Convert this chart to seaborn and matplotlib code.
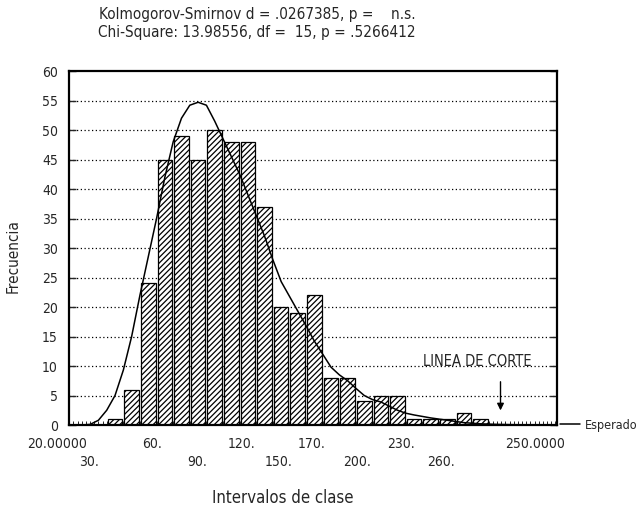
import numpy as np
import pandas as pd
import matplotlib
matplotlib.use("Agg")
import matplotlib.pyplot as plt
import matplotlib.transforms as mtransforms
import seaborn as sns

# ---------------- data ----------------
bin_index = list(range(23))
frecuencia = [1, 6, 24, 45, 49, 45, 50, 48, 48, 37, 20, 19, 22, 8, 8, 4, 5, 5, 1, 1, 1, 2, 1]

exp_pos = [-2.0, -1.5, -1.0, -0.5, 0.0, 0.5, 1.0, 1.5, 2.0, 2.5, 3.0, 3.5, 4.0, 4.5,
           5.0, 5.5, 6.0, 6.5, 7.0, 7.5, 8.0, 8.5, 9.0, 9.5, 10.0, 10.5, 11.0, 11.5,
           12.0, 12.5, 13.0, 13.5, 14.0, 14.5, 15.0, 15.5, 16.0, 16.5, 17.0, 17.5,
           18.0, 19.0, 20.0, 21.0, 22.0, 23.0, 24.0, 25.0, 26.0]
esperado = [0.0, 0.1, 0.8, 2.5, 5.0, 9.3, 15.0, 22.0, 28.5, 35.0, 42.0, 48.0, 52.0, 54.2,
            54.7, 54.2, 51.5, 48.5, 45.5, 42.5, 39.0, 35.5, 32.0, 28.0, 24.3, 21.8, 19.3, 16.8,
            14.2, 12.0, 9.8, 8.5, 7.5, 6.2, 5.0, 4.3, 3.9, 3.2, 2.5, 2.0,
            1.7, 1.2, 0.8, 0.4, 0.2, 0.1, 0.05, 0.02, 0.0]

xlabels_row1 = ["20.00000", "60.", "120.", "170.", "230.", "250.0000"]
xlabels_row2 = ["30.", "90.", "150.", "200.", "260."]
xpos_row1 = [-3.49, 2.23, 7.59, 11.81, 17.23, 25.3]
xpos_row2 = [-1.57, 4.94, 9.82, 14.58, 19.64]

yticks = list(range(0, 61, 5))

title1 = "Kolmogorov-Smirnov d = .0267385, p =    n.s."
title2 = "Chi-Square: 13.98556, df =  15, p = .5266412"

# ---------------- style ----------------
sns.set_style("white")
plt.rcParams['font.family'] = ['DejaVu Sans']
plt.rcParams['font.stretch'] = 'condensed'
plt.rcParams['hatch.linewidth'] = 0.9
plt.rcParams['hatch.color'] = 'black'

fig = plt.figure(figsize=(6.43, 5.11), dpi=100)
ax = fig.add_axes([69/643, 1 - 425/511, 488/643, 354/511])

df_bars = pd.DataFrame({"bin": bin_index, "freq": frecuencia})
df_exp = pd.DataFrame({"bin": exp_pos, "esperado": esperado})

for y in yticks[1:-1]:
    ax.axhline(y, color='black', lw=0.9, linestyle=(0, (1, 2)), zorder=0.5)

sns.barplot(data=df_bars, x="bin", y="freq", native_scale=True, width=0.88,
            color='white', edgecolor='black', linewidth=0.9, ax=ax, zorder=2)
for p in ax.patches:
    p.set_hatch('//////')
    p.set_facecolor('white')
    p.set_edgecolor('black')

sns.lineplot(data=df_exp, x="bin", y="esperado", color='black', lw=1.1,
             ax=ax, zorder=3, label="Esperado")

ax.set_xlim(-2.77, 26.6)
ax.set_ylim(0, 60)
ax.set_yticks(yticks)
ax.set_yticklabels([str(v) for v in yticks], fontsize=10)
ax.tick_params(axis='y', direction='in', length=5, width=1, left=True, right=True,
               labelleft=True, labelright=False, pad=8)
ax.set_xticks([])
ax.set_xticks(np.arange(-2.75, 26.6, 0.25), minor=True)
ax.tick_params(axis='x', which='minor', direction='in', length=3, width=0.7, bottom=True)
ax.set_xlabel("")
ax.set_ylabel("Frecuencia", fontsize=11)
ax.yaxis.set_label_coords(-0.1, 0.477)

for s in ax.spines.values():
    s.set_visible(True)
    s.set_color('black')
    s.set_linewidth(1.6)

trans = mtransforms.blended_transform_factory(ax.transData, ax.transAxes)
for lab, xp in zip(xlabels_row1, xpos_row1):
    ax.text(xp, -0.035, lab, transform=trans, ha='center', va='top', fontsize=10, clip_on=False)
for lab, xp in zip(xlabels_row2, xpos_row2):
    ax.text(xp, -0.085, lab, transform=trans, ha='center', va='top', fontsize=10, clip_on=False)

ax.text(21.8, 9.5, "LINEA DE CORTE", ha='center', va='bottom', fontsize=10.5)
ax.annotate("", xy=(23.2, 2.0), xytext=(23.2, 7.8),
            arrowprops=dict(arrowstyle='-|>', color='black', lw=1, mutation_scale=10))

leg = ax.legend(loc='center left', bbox_to_anchor=(1.0, 0.0), frameon=False,
                handlelength=1.6, borderaxespad=0.1, borderpad=0.1, fontsize=9,
                handletextpad=0.4)

fig.text(257/643, 1 - 14/511, title1, ha='center', va='center', fontsize=11)
fig.text(257/643, 1 - 33/511, title2, ha='center', va='center', fontsize=11)
fig.text(283/643, 1 - 498/511, "Intervalos de clase", ha='center', va='center', fontsize=12)

fig.savefig("out.png", dpi=100)
